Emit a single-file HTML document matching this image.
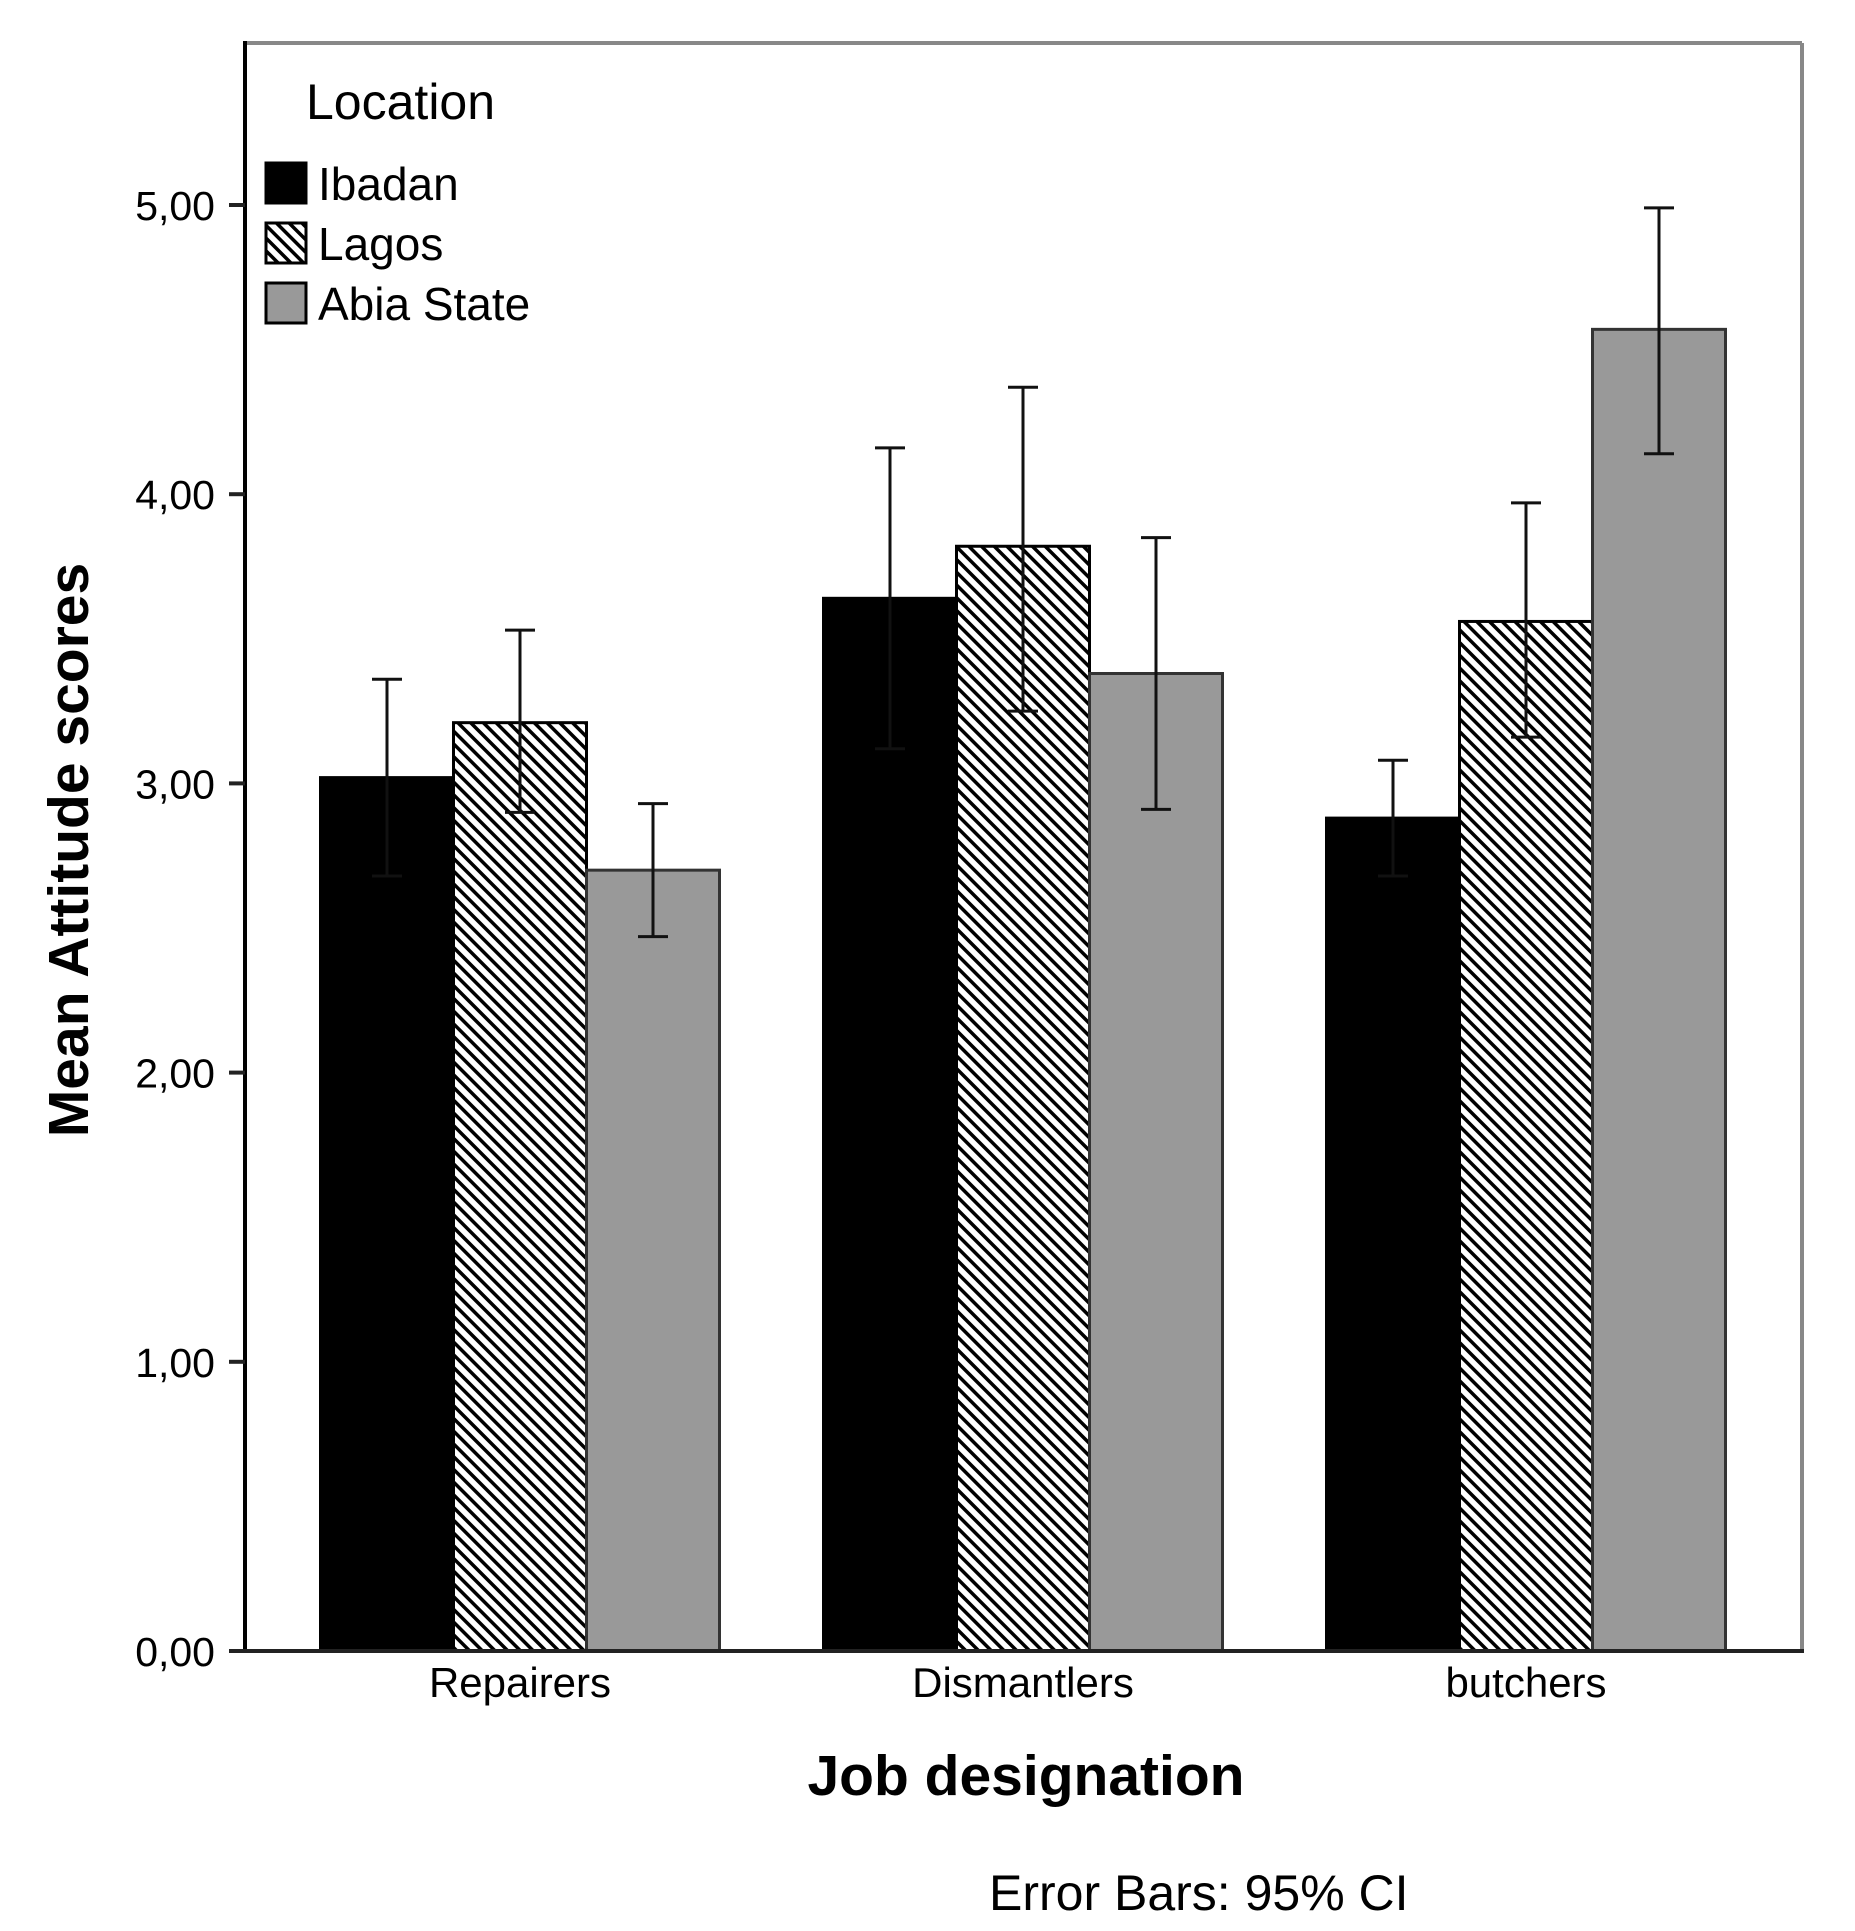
<!DOCTYPE html>
<html><head><meta charset="utf-8"><style>
html,body{margin:0;padding:0;background:#fff;}
svg{display:block;}
text{font-family:"Liberation Sans",sans-serif;fill:#000;}
</style></head><body>
<svg id="chart" width="1855" height="1931" viewBox="0 0 1855 1931" xmlns="http://www.w3.org/2000/svg">
<defs>
<pattern id="hatch" patternUnits="userSpaceOnUse" width="9" height="9" patternTransform="rotate(-45)">
<rect width="9" height="9" fill="#fff"/>
<rect x="0" y="0" width="3.5" height="9" fill="#000"/>
</pattern>
</defs>
<g id="plot"></g>
</svg>
<script>
const categories = ["Repairers", "Dismantlers", "butchers"];
const seriesNames = ["Ibadan", "Lagos", "Abia State"];
const ibadanMean = [3.02, 3.64, 2.88];
const ibadanLow = [2.68, 3.12, 2.68];
const ibadanHigh = [3.36, 4.16, 3.08];
const lagosMean = [3.21, 3.82, 3.56];
const lagosLow = [2.90, 3.25, 3.16];
const lagosHigh = [3.53, 4.37, 3.97];
const abiaMean = [2.70, 3.38, 4.57];
const abiaLow = [2.47, 2.91, 4.14];
const abiaHigh = [2.93, 3.85, 4.99];
const yTicks = [0, 1, 2, 3, 4, 5];
const yTickLabels = ["0,00", "1,00", "2,00", "3,00", "4,00", "5,00"];

const NS = "http://www.w3.org/2000/svg";
const g = document.getElementById("plot");
const L = 245, R = 1802, T = 43, B = 1651;
const unit = 289.2;
function y(v){ return B - v * unit; }
const groupW = 503;
function xc(i){ return 520 + i * groupW; }
const bw = 133;
function mk(tag, attrs, parent){
  const e = document.createElementNS(NS, tag);
  for (const k in attrs) e.setAttribute(k, attrs[k]);
  (parent || g).appendChild(e);
  return e;
}
let e;
e = mk("line", {x1:L, y1:T, x2:R, y2:T, stroke:"#888", "stroke-width":4});


e = mk("line", {x1:R, y1:T, x2:R, y2:B, stroke:"#888", "stroke-width":4});



const means = [ibadanMean, lagosMean, abiaMean];
const lows = [ibadanLow, lagosLow, abiaLow];
const highs = [ibadanHigh, lagosHigh, abiaHigh];
const fills = ["#000", "url(#hatch)", "#999"];
const keys = ["ibadan", "lagos", "abia"];
for (let c = 0; c < categories.length; c++) {
  for (let s = 0; s < 3; s++) {
    const x0 = xc(c) - 1.5 * bw + s * bw;
    const v = means[s][c];
    e = mk("rect", {x:x0, y:y(v), width:bw, height:B - y(v), fill:fills[s], stroke:s===2?"#333":"#000", "stroke-width":3});
    
    
  }
}
for (let c = 0; c < categories.length; c++) {
  for (let s = 0; s < 3; s++) {
    const cx = xc(c) - 1.5 * bw + s * bw + bw / 2;
    const eg = mk("g", {});
    
    
    const col = "#111";
    mk("line", {x1:cx, y1:y(lows[s][c]), x2:cx, y2:y(highs[s][c]), stroke:col, "stroke-width":3}, eg);
    mk("line", {x1:cx-15, y1:y(highs[s][c]), x2:cx+15, y2:y(highs[s][c]), stroke:col, "stroke-width":3}, eg);
    mk("line", {x1:cx-15, y1:y(lows[s][c]), x2:cx+15, y2:y(lows[s][c]), stroke:col, "stroke-width":3}, eg);
  }
}
e = mk("line", {x1:L, y1:T-2, x2:L, y2:B, stroke:"#000", "stroke-width":4});


e = mk("line", {x1:L-2, y1:B, x2:R+2, y2:B, stroke:"#222", "stroke-width":4});


for (let i = 0; i < yTicks.length; i++) {
  const yy = y(yTicks[i]);
  e = mk("line", {x1:L-16, y1:yy, x2:L, y2:yy, stroke:"#222", "stroke-width":4});
  
  
  e = mk("text", {x:L-30, y:yy+15, "text-anchor":"end", "font-size":41});
  e.textContent = yTickLabels[i];
  
  
}
for (let c = 0; c < categories.length; c++) {
  e = mk("text", {x:xc(c), y:1697, "text-anchor":"middle", "font-size":42});
  e.textContent = categories[c];
  
  
}
e = mk("text", {x:1026, y:1795, "text-anchor":"middle", "font-size":57, "font-weight":"bold"});
e.textContent = "Job designation";


e = mk("text", {x:0, y:0, "text-anchor":"middle", "font-size":57, "font-weight":"bold", transform:"translate(88,850) rotate(-90)"});
e.textContent = "Mean Attitude scores";


e = mk("text", {x:989, y:1910, "font-size":50});
e.textContent = "Error Bars: 95% CI";


const lg = mk("g", {});


e = mk("text", {x:306, y:119, "font-size":50}, lg);
e.textContent = "Location";


const legY = [163, 223, 283];
for (let s = 0; s < 3; s++) {
  const eg = mk("g", {}, lg);
  
  
  mk("rect", {x:266, y:legY[s], width:40, height:40, fill:fills[s], stroke:"#000", "stroke-width":3}, eg);
  const t = mk("text", {x:318, y:legY[s]+37, "font-size":46}, eg);
  t.textContent = seriesNames[s];
}
</script>
</body></html>
